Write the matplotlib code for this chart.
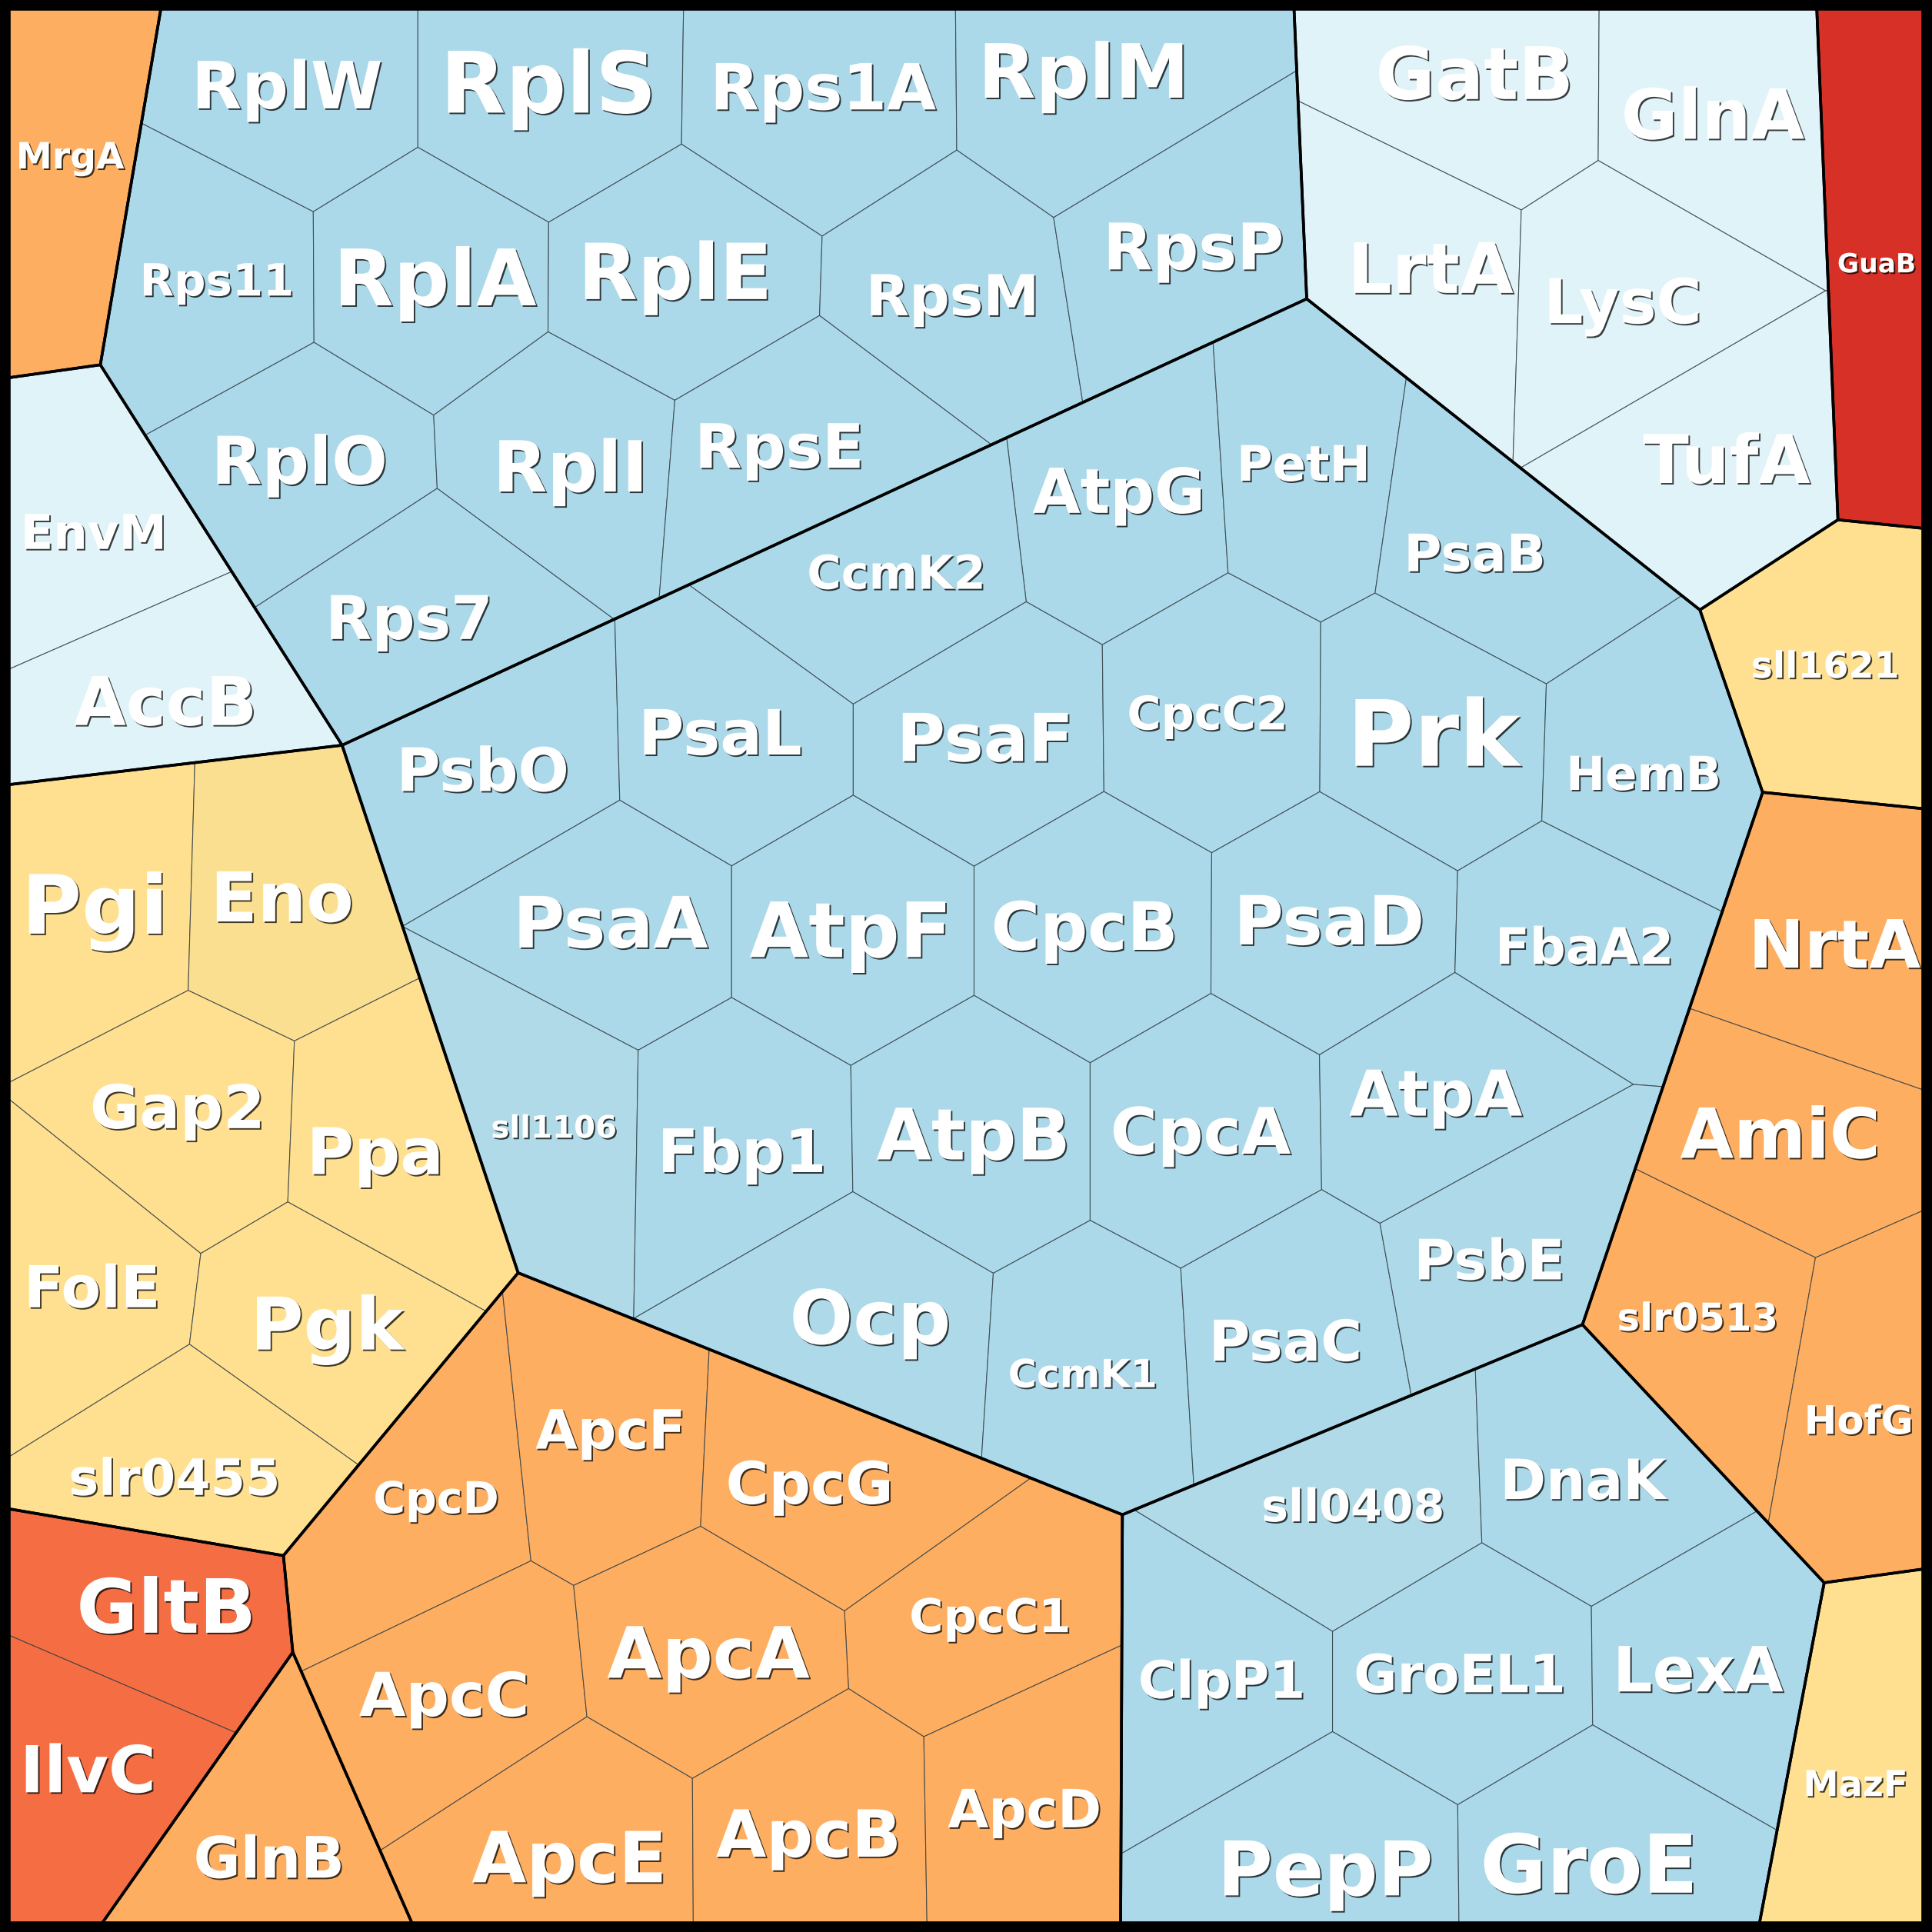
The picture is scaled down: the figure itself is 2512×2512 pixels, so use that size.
import matplotlib
matplotlib.use("Agg")
import matplotlib.pyplot as plt
import matplotlib.patheffects as pe
from matplotlib.patches import Polygon

# Voronoi treemap: top level = functional groups, second level = proteins.
# Both levels are power diagrams, given by site positions and weights.

# ---- top level (groups) ----
group_site_x = [61.6, 578.1, 1278.5, 1534.5, 115.4, 1499.6, 827.6, 170.3, 1454.3, 1065.6, 1516.5, 597.8, 101.7, 250.6]
group_site_y = [128.4, 216.2, 185.5, 174.9, 510.3, 524.2, 755.4, 974.7, 967.5, 1331.5, 1417.2, 1329.5, 1377.5, 1482.3]
group_weight = [48894, 273445, 90763, 52287, 67420, 0, 357292, 180494, 86971, 160104, 4666, 233827, 123780, 124111]

# ---- second level (proteins) ----
names = ["MrgA",
 "RplW","RplS","Rps1A","RplM","Rps11","RplA","RplE","RpsM","RpsP","RplO","RplI","RpsE","Rps7",
 "GatB","GlnA","LrtA","LysC","TufA",
 "GuaB",
 "EnvM","AccB",
 "sll1621",
 "AtpG","PetH","PsaB","CcmK2","PsbO","PsaL","PsaF","CpcC2","Prk","HemB","PsaA","AtpF","CpcB","PsaD",
 "FbaA2","sll1106","Fbp1","AtpB","CpcA","AtpA","Ocp","CcmK1","PsaC","PsbE",
 "Pgi","Eno","Gap2","Ppa","FolE","Pgk","slr0455",
 "NrtA","AmiC","slr0513","HofG",
 "sll0408","DnaK","ClpP1","GroEL1","LexA","PepP","GroE",
 "MazF",
 "CpcD","ApcF","CpcG","CpcC1","ApcC","ApcA","ApcE","ApcB","ApcD",
 "GltB","IlvC",
 "GlnB"]
group = [0]+[1]*13+[2]*5+[3]+[4]*2+[5]+[6]*24+[7]*7+[8]*4+[9]*7+[10]+[11]*9+[12]*2+[13]

site_x = [57,
 252,447,650,877,167,353,544,758,961,255,463,640,349,
 1215.7,1396.3,1145.6,1311.6,1396.9,
 1523,
 75,135,
 1481,
 881,1065,1237,705,418,602,789,973,1158,1338,508,695,881,1065,
 1257,423,601,787,974,1161,693,882,1065,1235,
 66,237,156,326,53,246,151,
 1495.9,1440.2,1359.9,1524.2,
 1094,1280,999,1186,1372,1092,1280,
 1506,
 318,498,663,765,395,573,483,661,839,
 132,74,
 218]
site_y = [126,
 56,56,59,57,221,220,221,228,196,381,371,385,525,
 78.4,79.5,221.8,227.3,374.2,
 213,
 431,568,
 539,
 429,417,442,450,597,592,592,590,591,597,752,752,752,753,
 758,914,917,914,914,911,1076,1088,1077,1046,
 736,741,911,918,1039,1063,1196,
 767.4,927.0,1089.8,1119.0,
 1205,1198,1360,1360,1358,1521,1519,
 1447,
 1197,1178,1186,1329,1357,1339,1493,1492,1489,
 1301,1436,
 1506]
site_w = [0,
 7017,11049,8820,3175,3626,5667,6976,484,0,3323,5472,8314,9699,
 2385,5491,4128,2703,0,
 0,
 224,0,
 0,
 7718,0,9456,19698,10270,13402,14533,9240,7054,4999,10848,13737,12792,9085,
 1138,13506,11762,12761,11168,9571,12771,6891,11281,17247,
 2969,1897,2362,4035,3566,0,1753,
 1596,0,7781,2364,
 7000,1883,765,4887,0,5385,6265,
 0,
 10643,5416,8442,0,2457,6820,4510,7980,7575,
 0,60,
 0]

# label anchor points (cell centroids)
label_x = [57,
 233,445,668,879.5,176,353,548,773,968.6,243,463,632.6,332,
 1196.7,1390,1161,1317,1401.4,
 1523,
 76,134.3,
 1481.3,
 908,1058,1197,727.4,391.7,584.6,799.5,980,1163.4,1333.9,495.5,690.3,880.2,1078.7,
 1286,449.5,602,790,974.5,1165.3,706.3,878.7,1043.2,1208.8,
 77,228.9,144,304.5,74.7,265.4,141.5,
 1488.9,1444.8,1377.8,1508.6,
 1098,1284.8,991.5,1184.8,1378.2,1075.5,1289.5,
 1505.9,
 354,495.4,657,803.5,360.5,575,462,656.3,831.6,
 135,71.5,
 218.3]
label_y = [126,
 68,65.5,69,56.7,226,224,219,238.5,198.8,372.6,377,361,500,
 58.3,91.4,216.5,243.5,371.6,
 213,
 431,568,
 539.3,
 397.5,375,447.6,463.8,623.4,593.6,597.7,578,593.5,627,747,753.4,750.5,746,
 767,914,932.7,919,916.5,886.3,1068,1114,1087,1021.7,
 733.3,727,897,933,1043.5,1073.3,1198,
 765,918.5,1068,1151.8,
 1220.8,1200,1362,1357,1354,1515,1511.4,
 1447,
 1214.8,1159.2,1202.5,1310.6,1374,1339.7,1505.7,1487,1466.6,
 1302.5,1434.7,
 1506.5]

# ---- styles ----
font_size = [17,
 30.5,39.7,29.8,35,20.8,36.5,36.2,26.4,30.1,30.8,33,28.7,28.2,
 33.9,32.4,32.6,29,31.4,
 12.4,
 22.5,31.5,
 17.1,
 29,23,24.2,21.8,28.1,29.2,31,21.7,42.8,21.9,33.1,35.7,31.2,31.7,
 23.6,14.5,28.1,33.3,30,29.6,35,18.2,26.4,26.1,
 38.3,32.2,28.2,30.2,27.1,34,23.5,
 31.2,32.4,17.9,18.4,
 21.1,26,24.3,24.7,29.2,35.3,38,
 16.7,
 20.5,25.4,27.4,21.8,28.3,33.2,33,30.5,24.7,
 35,30.3,
 26.8]
group_color = ["#fdae61","#abd9e9","#e0f3f8","#d73027","#e0f3f8","#fee090","#abd9e9",
               "#fee090","#fdae61","#abd9e9","#fee090","#fdae61","#f46d43","#fdae61"]
lighter = {"sll1106": "#b0dae8", "sll0408": "#b0dae8", "PsbE": "#aed9e8", "Ocp": "#aed9e8",
           "Eno": "#fadf90"}

LO, HI = 7.5, 1560.5
S = 1568.0


def clip(poly, a, b, c):
    # keep the part of poly with a*x + b*y + c >= 0
    out = []
    n = len(poly)
    for k in range(n):
        P = poly[k]; Q = poly[(k+1) % n]
        fp = a*P[0]+b*P[1]+c
        fq = a*Q[0]+b*Q[1]+c
        if fp >= 0:
            out.append(P)
        if (fp >= 0) != (fq >= 0):
            t = fp/(fp-fq)
            out.append((P[0]+t*(Q[0]-P[0]), P[1]+t*(Q[1]-P[1])))
    return out


def power_cell(base, px, py, pw, k):
    poly = base
    for m in range(len(px)):
        if m == k:
            continue
        a = 2*(px[k]-px[m]); b = 2*(py[k]-py[m])
        c = (px[m]**2+py[m]**2-pw[m]) - (px[k]**2+py[k]**2-pw[k])
        poly = clip(poly, a, b, c)
        if not poly:
            break
    return poly


box = [(LO,LO),(HI,LO),(HI,HI),(LO,HI)]

fig = plt.figure(figsize=(12.56,12.56), dpi=200, facecolor="black")
ax = fig.add_axes([LO/S, LO/S, (HI-LO)/S, (HI-LO)/S])
ax.set_xlim(LO,HI); ax.set_ylim(HI,LO)
ax.axis("off")

for g in range(len(group_site_x)):
    gpoly = power_cell(box, group_site_x, group_site_y, group_weight, g)
    idx = [k for k in range(len(names)) if group[k] == g]
    cx = [site_x[k] for k in idx]; cy = [site_y[k] for k in idx]; cw = [site_w[k] for k in idx]
    for n_, k in enumerate(idx):
        cpoly = power_cell(gpoly, cx, cy, cw, n_)
        if len(cpoly) > 2:
            ax.add_patch(Polygon(cpoly, closed=True, facecolor=lighter.get(names[k], group_color[g]),
                                 edgecolor=(0.2,0.25,0.28,0.8), linewidth=0.4))
    ax.add_patch(Polygon(gpoly, closed=True, fill=False, edgecolor="black", linewidth=1.3, zorder=3))

shadow = [pe.SimplePatchShadow(offset=(0.7,-0.7), shadow_rgbFace="black", alpha=0.75), pe.Normal()]
for k in range(len(names)):
    ax.annotate(names[k], (label_x[k], label_y[k]), xytext=(0, -0.1*font_size[k]), textcoords="offset points",
                ha="center", va="center", fontsize=font_size[k], fontweight="bold", color="white",
                path_effects=shadow, zorder=5)

fig.savefig("out.png", dpi=200, facecolor="black")
